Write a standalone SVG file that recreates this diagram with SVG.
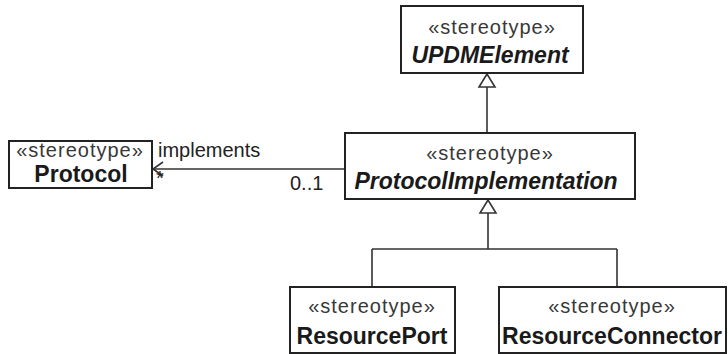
<svg xmlns="http://www.w3.org/2000/svg" width="728" height="354" viewBox="0 0 728 354">
<defs>
<style>
.box{fill:#fff;stroke:#222;stroke-width:2}
.st{font-family:"Liberation Sans",Arial,sans-serif;font-size:20px;letter-spacing:1px;fill:#383838;text-anchor:middle}
.nm{font-family:"Liberation Sans",Arial,sans-serif;font-size:23px;font-weight:bold;fill:#1a1a1a;text-anchor:middle}
.it{font-style:italic}
.ln{fill:none;stroke:#333;stroke-width:1.6}
.tri{fill:#fff;stroke:#333;stroke-width:1.6}
.lb{font-family:"Liberation Sans",Arial,sans-serif;font-size:20px;fill:#222}
</style>
</defs>
<rect width="728" height="354" fill="#fff"/>
<g id="connectors">
<path class="ln" d="M487,133 V87"/>
<polygon class="tri" points="487,74 479,87 495,87"/>
<path class="ln" d="M488,213 V249 M372,249 H617 M372,249 V287 M617,249 V287"/>
<polygon class="tri" points="488,200 480,213 496,213"/>
<path class="ln" d="M345,169 H153"/>
<path class="ln" d="M163,162 L153,169 L163,176"/>
<text class="lb" x="158" y="157">implements</text>
<text class="lb" x="156" y="185">*</text>
<text class="lb" x="290" y="190">0..1</text>
</g>
<g id="UPDMElement">
<rect class="box" x="401" y="6" width="182" height="67"/>
<text class="st" x="492" y="34">«stereotype»</text>
<text class="nm it" x="490" y="63">UPDMElement</text>
</g>
<g id="ProtocolImplementation">
<rect class="box" x="345" y="133" width="290" height="66"/>
<text class="st" x="490" y="160">«stereotype»</text>
<text class="nm it" x="486" y="189">ProtocolImplementation</text>
</g>
<g id="Protocol">
<rect class="box" x="9" y="141" width="143" height="47"/>
<text class="st" x="80" y="157">«stereotype»</text>
<text class="nm" x="81" y="182">Protocol</text>
</g>
<g id="ResourcePort">
<rect class="box" x="290" y="287" width="165" height="66"/>
<text class="st" x="372" y="313">«stereotype»</text>
<text class="nm" x="372" y="344">ResourcePort</text>
</g>
<g id="ResourceConnector">
<rect class="box" x="499" y="287" width="227" height="66"/>
<text class="st" x="612" y="313">«stereotype»</text>
<text class="nm" x="612" y="344">ResourceConnector</text>
</g>
</svg>
